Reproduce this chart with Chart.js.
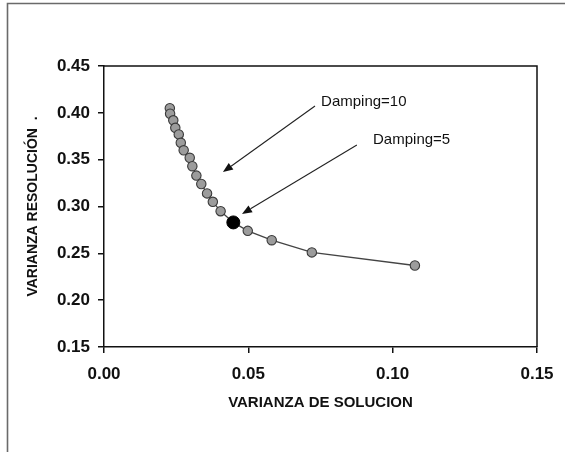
<!DOCTYPE html>
<html>
<head>
<meta charset="utf-8">
<script src="https://cdn.jsdelivr.net/npm/chart.js@4/dist/chart.umd.min.js"></script>
<style>
  html, body { margin: 0; padding: 0; background: #fff; }
  #wrap { width: 565px; height: 452px; position: relative; }
</style>
</head>
<body>
<div id="wrap"><canvas id="c" width="565" height="452"></canvas></div>
<script>
// Solution variance vs. resolution variance along the damping curve
const solucionX = [0.0228, 0.0229, 0.0240, 0.0247, 0.0259, 0.0266, 0.0276, 0.0297, 0.0306,
                   0.0320, 0.0337, 0.0357, 0.0377, 0.0404, 0.0448, 0.0498, 0.0581, 0.0720, 0.1077];
const resolucionY = [0.405, 0.399, 0.392, 0.384, 0.377, 0.368, 0.360, 0.352, 0.343,
                     0.333, 0.324, 0.314, 0.305, 0.295, 0.283, 0.274, 0.264, 0.251, 0.237];

// Highlighted solution (Damping=5)
const dampingX = [0.0448];
const dampingY = [0.283];

// Axis ticks
const xTicks = [0.00, 0.05, 0.10, 0.15];
const yTicks = [0.15, 0.20, 0.25, 0.30, 0.35, 0.40, 0.45];

// Callouts: label, text anchor (x, y), arrow start (x, y), arrow tip (x, y) in data units
const calloutLabels = ['Damping=10', 'Damping=5'];
const calloutText = [[0.0752, 0.4116], [0.0932, 0.3710]];
const calloutFrom = [[0.0731, 0.4073], [0.0876, 0.3657]];
const calloutTo = [[0.0412, 0.3368], [0.0478, 0.2920]];

const FONT = "'Liberation Sans', Arial, sans-serif";

const decorations = {
  id: 'decorations',
  afterDraw(chart) {
    const ctx = chart.ctx;
    const {left, right, top, bottom} = chart.chartArea;
    const xs = chart.scales.x, ys = chart.scales.y;
    ctx.save();
    // outer frame (top and left edges)
    ctx.strokeStyle = '#6a6a6a';
    ctx.lineWidth = 1.6;
    ctx.beginPath();
    ctx.moveTo(7.5, 452);
    ctx.lineTo(7.5, 3.5);
    ctx.lineTo(565, 3.5);
    ctx.stroke();
    // plot box top and right edges
    ctx.strokeStyle = '#111';
    ctx.lineWidth = 1.5;
    ctx.beginPath();
    ctx.moveTo(left, top);
    ctx.lineTo(right, top);
    ctx.lineTo(right, bottom);
    ctx.stroke();
    // callouts with arrows
    for (let i = 0; i < calloutLabels.length; i++) {
      const x0 = xs.getPixelForValue(calloutFrom[i][0]);
      const y0 = ys.getPixelForValue(calloutFrom[i][1]);
      const x1 = xs.getPixelForValue(calloutTo[i][0]);
      const y1 = ys.getPixelForValue(calloutTo[i][1]);
      const ang = Math.atan2(y1 - y0, x1 - x0);
      const headL = 10, headW = 4;
      const bx = x1 - headL * Math.cos(ang), by = y1 - headL * Math.sin(ang);
      ctx.strokeStyle = '#222';
      ctx.fillStyle = '#111';
      ctx.lineWidth = 1.1;
      ctx.beginPath();
      ctx.moveTo(x0, y0);
      ctx.lineTo(bx, by);
      ctx.stroke();
      ctx.beginPath();
      ctx.moveTo(x1, y1);
      ctx.lineTo(bx + headW * Math.sin(ang), by - headW * Math.cos(ang));
      ctx.lineTo(bx - headW * Math.sin(ang), by + headW * Math.cos(ang));
      ctx.closePath();
      ctx.fill();
      ctx.font = '15px ' + FONT;
      ctx.textAlign = 'left';
      ctx.textBaseline = 'middle';
      ctx.fillText(calloutLabels[i], xs.getPixelForValue(calloutText[i][0]), ys.getPixelForValue(calloutText[i][1]));
    }
    ctx.restore();
  }
};

new Chart(document.getElementById('c'), {
  type: 'scatter',
  data: {
    datasets: [
      {
        label: 'Damping=5',
        data: dampingX.map((x, i) => ({x, y: dampingY[i]})),
        showLine: false,
        pointRadius: 6.5,
        pointBackgroundColor: '#000',
        pointBorderColor: '#000',
        pointBorderWidth: 1
      },
      {
        label: 'Varianza',
        data: solucionX.map((x, i) => ({x, y: resolucionY[i]})),
        showLine: true,
        borderColor: '#444',
        borderWidth: 1.3,
        pointRadius: 4.7,
        pointBackgroundColor: '#9c9c9c',
        pointBorderColor: '#3a3a3a',
        pointBorderWidth: 1.1
      }
    ]
  },
  options: {
    responsive: false,
    animation: false,
    layout: { padding: { left: 0, top: 66, right: 28, bottom: 0 } },
    plugins: { legend: { display: false }, tooltip: { enabled: false } },
    scales: {
      x: {
        type: 'linear',
        min: 0, max: 0.15,
        afterBuildTicks(s) { s.ticks = xTicks.map(v => ({value: v})); },
        afterFit(s) { s.height = 105; },
        grid: { drawOnChartArea: false, drawTicks: true, tickLength: 6, color: '#111', lineWidth: 1.5 },
        border: { display: true, color: '#111', width: 1.5 },
        ticks: {
          color: '#111', padding: 11,
          font: { family: FONT, size: 17, weight: 'bold' },
          callback: v => v.toFixed(2), maxRotation: 0
        },
        title: {
          display: true, text: 'VARIANZA DE SOLUCION', color: '#111',
          font: { family: FONT, size: 15, weight: 'bold' },
          padding: { top: 0, bottom: 40 }
        }
      },
      y: {
        type: 'linear',
        min: 0.15, max: 0.45,
        afterBuildTicks(s) { s.ticks = yTicks.map(v => ({value: v})); },
        afterFit(s) { s.width = 104; },
        grid: { drawOnChartArea: false, drawTicks: true, tickLength: 6, color: '#111', lineWidth: 1.5 },
        border: { display: true, color: '#111', width: 1.5 },
        ticks: {
          color: '#111', padding: 8,
          font: { family: FONT, size: 17, weight: 'bold' },
          callback: v => v.toFixed(2)
        },
        title: {
          display: true, text: 'VARIANZA RESOLUCIÓN  .', color: '#111',
          font: { family: FONT, size: 14, weight: 'bold' },
          padding: { top: 25, bottom: 0 }
        }
      }
    }
  },
  plugins: [decorations]
});
</script>
</body>
</html>
